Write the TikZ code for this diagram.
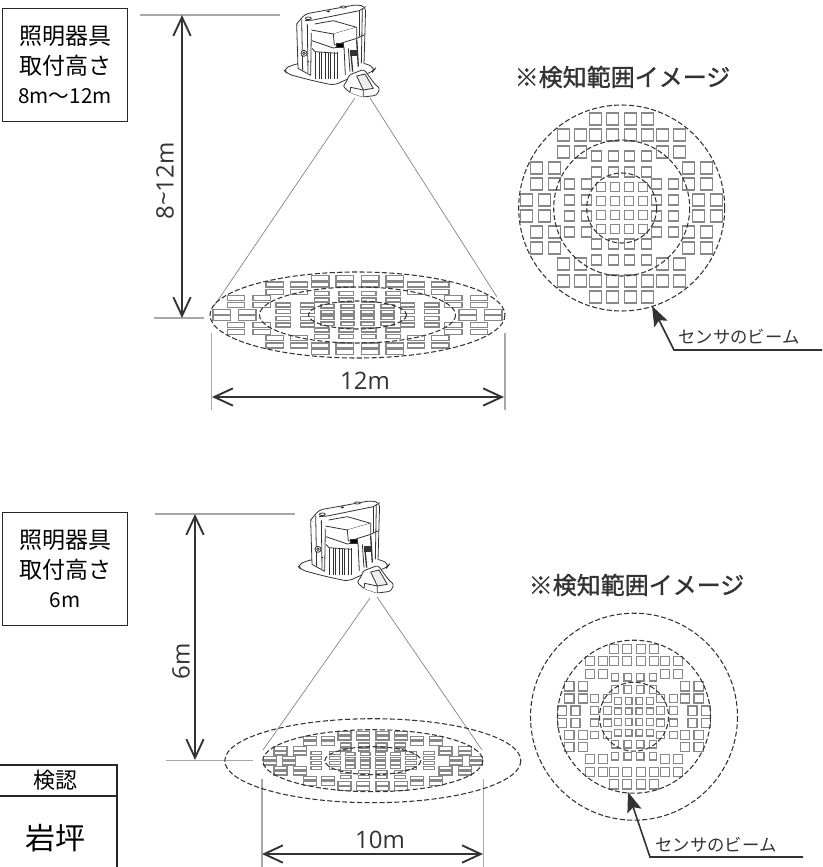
\documentclass[tikz,border=0pt]{standalone}
\usepackage{fontspec}
\setmainfont{Noto Sans CJK JP}
\newfontfamily\dimfont{Open Sans}
\newfontfamily\titlefont[FakeBold=1.2]{Noto Sans CJK JP}
\usetikzlibrary{arrows.meta}
\definecolor{inkgray}{HTML}{333333}
\definecolor{cellgray}{HTML}{888888}
\definecolor{guidegray}{HTML}{A8A8A8}
\newcommand{\cellrow}[3]{\foreach \sx in {-1,1} \foreach \sy in {-1,1} \foreach \xc in {#3}
    \draw[cell] ({\sx*\xc-#1/2},{\sy*#2-#1/2}) rectangle ++(#1,#1);}
\newcommand{\beamcells}{%
    \cellrow{12}{89}{9,26}
    \cellrow{12}{73}{9,26,41,58}
    \cellrow{12}{56}{41,58}
    \cellrow{12}{40}{67,85}
    \cellrow{12}{24}{67,85}
    \cellrow{12}{8}{77,95}
    \cellrow{10}{52}{8,25}
    \cellrow{10}{36}{8,25}
    \cellrow{10}{24}{35,52}
    \cellrow{10}{8}{35,52}
    \cellrow{9}{21}{7,21}
    \cellrow{9}{7}{7,21}}
\newcommand{\luminaire}{%
    \draw[lamp, rounded corners=4] (249,207) -- (292,190) -- (490,188) -- (527,204) -- (518,216) -- (440,238) -- (402,256) -- (330,240) -- (262,222) -- cycle;
    \fill[white] (290,72) -- (315,42) -- (470,14) -- (497,20) -- (492,195) -- (400,240) -- (332,226) -- (294,205) -- cycle;
    \draw[lamp] (290,72) -- (294,205) -- (332,226) -- (334,90) -- cycle;
    \draw[lamp, rounded corners=3] (290,72) -- (315,42) -- (470,14) -- (497,20) -- (492,192);
    \draw[lamp] (315,62) -- (340,60) -- (478,32) -- (497,20);
    \draw[lamp] (478,32) -- (478,110);
    \draw[lamp] (487,27) -- (484,190);
    \draw[lamp] (305,58) -- (308,212);
    \draw[lamp] (322,72) -- (324,220);
    \draw[lamp] (325,55) ellipse (9 and 4);
    \draw[lamp] (385,34) ellipse (4 and 2);
    \draw[lamp] (430,21) ellipse (9 and 3);
    \draw[lamp] (334,90) -- (400,102) -- (470,82) -- (400,62) -- (344,72);
    \draw[lamp] (400,102) -- (403,136) -- (470,115) -- (470,82);
    \draw[lamp] (336,122) -- (400,144) -- (420,140);
    \draw[lamp] (470,115) -- (492,105);
    \foreach \xk in {345,358,364,376,386,392,402,412}
        \draw[lamp] (\xk,155) -- (\xk,238);
    \draw[lamp] (336,145) -- (345,155) -- (412,160);
    \draw[lamp, fill=black] (408,130) rectangle (430,141);
    \draw[lamp] (432,140) -- (436,225);
    \draw[lamp] (445,145) -- (450,215);
    \draw[lamp, line width=1pt] (452,150) -- (458,215);
    \draw[lamp, line width=1pt] (470,118) -- (475,200);
    \draw[lamp, fill=inkgray] (450,152) rectangle (470,165);
    \draw[lamp] (312,160) circle (9);
    \draw[lamp] (312,160) circle (4);
    \fill (325,184) circle (2);
    \draw[lamp, rounded corners=2] (447,225) -- (492,208) -- (524,252) -- (540,265) -- (530,286) -- (490,291) -- (450,278) -- (428,258) -- (440,246) -- cycle;
    \draw[lamp, fill=guidegray!20] (470,228) -- (495,222) -- (520,265) -- (490,270) -- cycle;
    \draw[lamp] (450,278) -- (452,262) -- (490,270) -- (490,291);}
\begin{document}
\begin{tikzpicture}[x=0.75pt, y=-0.75pt,
    cell/.style = {draw=cellgray, line width=0.95pt},
    ring/.style = {draw=inkgray, line width=0.8pt, dash pattern=on 3.8pt off 1.8pt},
    lamp/.style = {draw=inkgray, line width=0.6pt, fill=white, line join=round},
    guide/.style = {draw=guidegray, line width=0.8pt},
    cone/.style = {draw=gray, line width=0.5pt},
    dimline/.style = {draw=inkgray, line width=1.4pt, {Straight Barb[length=14pt,width=13pt]}-{Straight Barb[length=14pt,width=13pt]}},
    leader/.style = {draw=inkgray, line width=1.2pt, {Stealth[length=15pt,width=11pt,inset=3pt]}-},
    infobox/.style = {draw=black!85, line width=0.8pt, minimum width=94.3pt, minimum height=85pt, align=center, font=\fontsize{17.25}{22}\selectfont, text=black},
    stampbox/.style = {draw=black!85, line width=0.8pt, minimum width=93pt, text=black},
    dimtext/.style = {font=\dimfont\fontsize{18}{20}\selectfont, text=inkgray, inner sep=0pt},
    titletext/.style = {font=\titlefont\fontsize{18}{20}\selectfont, text=inkgray, inner sep=0pt},
    beamtext/.style = {font=\fontsize{13}{15}\selectfont, text=inkgray, inner sep=0pt}]
    \useasboundingbox (0,0) rectangle (822,867);

    \coordinate (topUp) at (182,15);
    \coordinate (topDown) at (182,318);
    \coordinate (topLeft) at (212,397);
    \coordinate (topRight) at (504,397);
    \coordinate (topLampA) at (355,98);
    \coordinate (topLampB) at (370,98);
    \coordinate (topConeA) at (214,306);
    \coordinate (topConeB) at (497,297);
    \coordinate (topTip) at (652,306);
    \coordinate (topBend) at (674,350);
    \coordinate (topEnd) at (822,350);

    \draw[guide] (140,15) -- (280,15);
    \draw[guide] (154,318) -- (204,318);
    \draw[guide] (211.5,333) -- (211.5,410);
    \draw[guide] (505,333) -- (505,410);
    \begin{scope}[shift={(200,0)}, scale=1/3]
        \luminaire
    \end{scope}
    \draw[cone] (topLampA) -- (topConeA);
    \draw[cone] (topLampB) -- (topConeB);
    \begin{scope}[shift={(357.5,315)}, xscale=1.43, yscale=0.417]
        \beamcells
    \end{scope}
    \draw[ring] (357.5,315) ellipse (147.5 and 43);
    \draw[ring] (357.5,315) ellipse (98 and 28);
    \draw[ring] (357.5,315) ellipse (49 and 14);
    \begin{scope}[shift={(621.7,208)}]
        \beamcells
    \end{scope}
    \draw[ring] (621.7,208) circle (103);
    \draw[ring] (621.7,208) circle (68);
    \draw[ring] (621.7,208) circle (35);
    \draw[dimline] (topUp) -- (topDown);
    \draw[dimline] (topLeft) -- (topRight);
    \draw[leader] (topTip) -- (topBend) -- (topEnd);

    \node[infobox] (topBox) at (65,65.25) {照明器具\\取付高さ\\{\fontsize{15.5}{22}\selectfont 8m〜12m}};
    \node[dimtext, rotate=90] (topHeight) at (165,181) {8\raisebox{1pt}{\textasciitilde}12m};
    \node[dimtext] (topWidth) at (365,381) {12m};
    \node[titletext] (topTitle) at (622.5,77) {※検知範囲イメージ};
    \node[beamtext] (topBeam) at (739,337) {センサのビーム};

    \coordinate (lowUp) at (195,514);
    \coordinate (lowDown) at (195,760);
    \coordinate (lowLeft) at (262,854);
    \coordinate (lowRight) at (483,854);
    \coordinate (lowLampA) at (370,598);
    \coordinate (lowLampB) at (377,597);
    \coordinate (lowConeA) at (263,750);
    \coordinate (lowConeB) at (482,750);
    \coordinate (lowTip) at (628,792);
    \coordinate (lowBend) at (650,857);
    \coordinate (lowEnd) at (803,857);

    \draw[guide] (155,514) -- (295,514);
    \draw[guide] (166,760.7) -- (253,760.7);
    \draw[guide] (262,779) -- (262,867);
    \draw[guide] (483.5,779) -- (483.5,867);
    \begin{scope}[shift={(214,496)}, scale=1/3]
        \luminaire
    \end{scope}
    \draw[cone] (lowLampA) -- (lowConeA);
    \draw[cone] (lowLampB) -- (lowConeB);
    \begin{scope}[shift={(372.8,760.7)}, xscale=1.085, yscale=0.31]
        \beamcells
    \end{scope}
    \draw[ring] (372.8,760.7) ellipse (148 and 42);
    \draw[ring] (372.8,760.7) ellipse (110 and 31);
    \draw[ring] (372.8,760.7) ellipse (48 and 14);
    \begin{scope}[shift={(634,716.7)}, scale=0.76]
        \beamcells
    \end{scope}
    \draw[ring] (634,716.7) circle (103.5);
    \draw[ring] (634,716.7) circle (76.5);
    \draw[ring] (634,716.7) circle (34.5);
    \draw[dimline] (lowUp) -- (lowDown);
    \draw[dimline] (lowLeft) -- (lowRight);
    \draw[leader] (lowTip) -- (lowBend) -- (lowEnd);

    \node[infobox] (lowBox) at (65,569.2) {照明器具\\取付高さ\\{\fontsize{15.5}{22}\selectfont 6m}};
    \node[dimtext, rotate=90] (lowHeight) at (181,661) {6m};
    \node[dimtext] (lowWidth) at (380,840) {10m};
    \node[titletext] (lowTitle) at (636.5,585) {※検知範囲イメージ};
    \node[beamtext] (lowBeam) at (716,845) {センサのビーム};

    \node[stampbox, minimum height=23pt, font=\fontsize{16.5}{18}\selectfont] (stampHead) at (55,780.3) {検認};
    \node[stampbox, minimum height=63pt, font=\fontsize{22.5}{24}\selectfont] (stampName) at (55,838) {岩坪};
\end{tikzpicture}
\end{document}
